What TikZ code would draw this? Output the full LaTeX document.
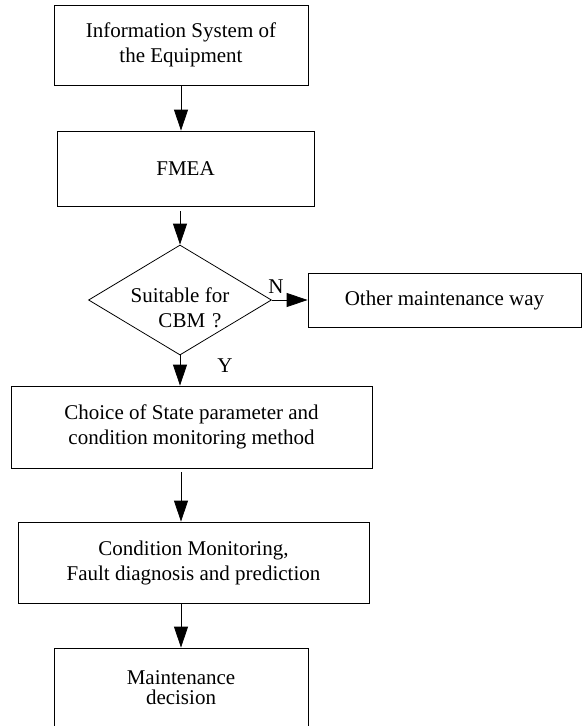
\documentclass[tikz,border=0pt]{standalone}
\usepackage{fontspec}
\setmainfont{Liberation Serif}
\usepackage{tikz}
\usetikzlibrary{arrows.meta,shapes.geometric}

\begin{document}
\begin{tikzpicture}[x=1pt,y=-1pt,font=\fontsize{21}{25}\selectfont]

      \clip (0,0) rectangle (582,726);

      \begin{scope}[every node/.style={draw,thick,align=center,inner sep=0pt}]
        \node[minimum width=254,minimum height=80] (info) at (181,45) {Information System of\\the Equipment};
        \node[minimum width=257,minimum height=75] (fmea) at (185.5,168.5) {FMEA};
        \node[minimum width=273,minimum height=54] (other) at (444.5,300) {Other maintenance way};
        \node[minimum width=361,minimum height=82] (choice) at (191.5,427) {Choice of State parameter and\\condition monitoring method};
        \node[minimum width=351,minimum height=81] (cond) at (193.5,562.5) {Condition Monitoring,\\Fault diagnosis and prediction};
        \node[minimum width=254,minimum height=80] (maint) at (181,688) {Maintenance\\[-5pt]decision};
      \end{scope}

      % decision, text set a little below the middle
      \node[draw,thick,diamond,inner sep=0pt,minimum width=183,minimum height=110] (dia) at (180,300)
        {\raisebox{-15pt}[0pt][0pt]{\begin{tabular}{@{}c@{}}Suitable for\\\hspace*{20pt}CBM\hspace{7pt}?\end{tabular}}};

      \begin{scope}[>={Triangle[length=21pt,width=14pt]},
          every edge/.style={draw=black,thick}]
        \path [->] (info.south) edge (info.south |- fmea.north);
        \path [->,shorten <=5pt] (dia.north |- fmea.south) edge (dia.north);
        \path [->] (dia.east) edge (other.west);
        \path [->] (dia.south) edge (dia.south |- choice.north);
        \path [->,shorten <=4pt] (maint.north |- choice.south) edge (maint.north |- cond.north);
        \path [->] (maint.north |- cond.south) edge (maint.north);
      \end{scope}

      \node (n) at (276,287) {N};
      \node (y) at (225,366) {Y};
    \end{tikzpicture}
\end{document}
